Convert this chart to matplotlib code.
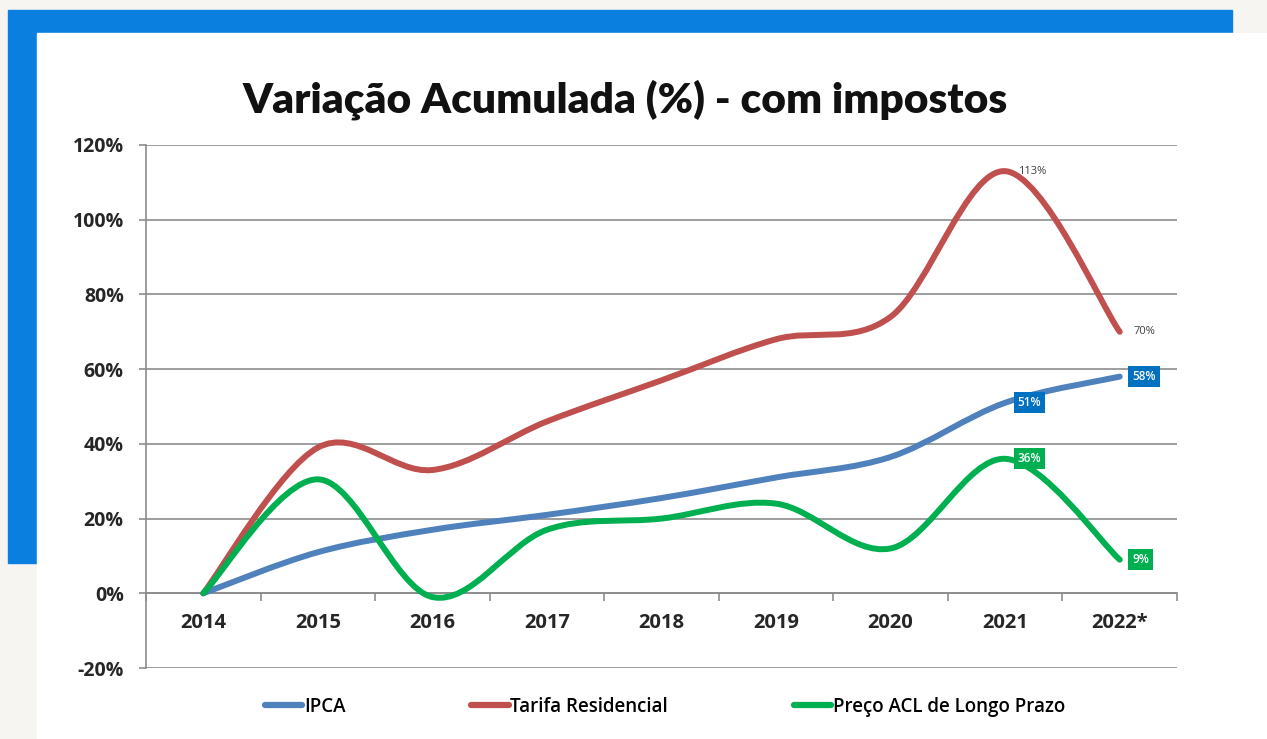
import matplotlib
matplotlib.use('Agg')
import matplotlib.pyplot as plt
from matplotlib.font_manager import FontProperties
import numpy as np
from matplotlib.path import Path
from matplotlib.patches import PathPatch, Rectangle
from matplotlib.lines import Line2D

# data (accumulated variation, %)
years = ['2014', '2015', '2016', '2017', '2018', '2019', '2020', '2021', '2022*']
ipca = [0, 11, 17, 21, 25.5, 31, 36.5, 51, 58]
tarifa = [0, 39, 33, 46, 57, 68, 74, 113, 70]
acl = [0, 30.5, -1, 17, 20, 24, 12, 36, 9]

series_names = ['IPCA', 'Tarifa Residencial', 'Preço ACL de Longo Prazo']
series_colors = ['#4f81bd', '#c0504d', '#00b050']

W, H = 1267, 739
fig = plt.figure(figsize=(W / 100, H / 100), dpi=100, facecolor='#f6f5f1')

# blue frame and white card behind the chart
fig.add_artist(Rectangle((8 / W, 1 - 563 / H), (1232 - 8) / W, (563 - 10) / H,
                         transform=fig.transFigure, color='#0a7fe0', zorder=-2))
fig.add_artist(Rectangle((37 / W, 0), 1 - 37 / W, (H - 33) / H,
                         transform=fig.transFigure, color='white', zorder=-1))

ax = fig.add_axes([146 / W, 1 - 668 / H, (1177 - 146) / W, (668 - 145) / H])
ax.set_facecolor('none')


def smooth_path(xs, ys):
    # excel-like smoothed line: bezier segments with catmull-rom control points
    pts = np.column_stack([xs, ys]).astype(float)
    n = len(pts)
    verts = [pts[0]]
    codes = [Path.MOVETO]
    for i in range(n - 1):
        p0 = pts[max(i - 1, 0)]
        p1 = pts[i]
        p2 = pts[i + 1]
        p3 = pts[min(i + 2, n - 1)]
        c1 = p1 + (p2 - p0) / 6
        c2 = p2 - (p3 - p1) / 6
        verts += [c1, c2, p2]
        codes += [Path.CURVE4] * 3
    return Path(verts, codes)


x = np.arange(len(years))
for vals, col in zip([ipca, tarifa, acl], series_colors):
    ax.add_patch(PathPatch(smooth_path(x, vals), fill=False, edgecolor=col,
                           lw=4.3, capstyle='round', joinstyle='round', zorder=3))

ax.set_xlim(-0.5, len(years) - 0.5)
ax.set_ylim(-20, 120)
ax.set_yticks(np.arange(-20, 121, 20))
ax.set_yticklabels([f'{v}%' for v in range(-20, 121, 20)])
ax.grid(axis='y', color='#8c8c8c', lw=1.2)
ax.set_axisbelow(True)

for s in ['top', 'right']:
    ax.spines[s].set_visible(False)
ax.spines['left'].set_color('#8c8c8c')
ax.spines['left'].set_linewidth(1.2)
ax.spines['bottom'].set_position(('data', 0))
ax.spines['bottom'].set_color('#8c8c8c')
ax.spines['bottom'].set_linewidth(1.2)

ax.set_xticks(x)
ax.set_xticklabels(years)
ax.set_xticks(np.arange(-0.5, len(years), 1), minor=True)
ax.tick_params(axis='x', which='major', length=0, pad=14)
ax.tick_params(axis='x', which='minor', length=6, color='#8c8c8c', width=1.2)
ax.tick_params(axis='y', length=5, color='#8c8c8c', width=1.2, pad=11)

for lab in ax.get_xticklabels():
    lab.set_fontproperties(FontProperties(family=['Open Sans', 'DejaVu Sans'], weight='bold', size=14.5))
    lab.set_color('#262626')
for lab in ax.get_yticklabels():
    lab.set_fontproperties(FontProperties(family=['Open Sans', 'DejaVu Sans'], weight='bold', size=14))
    lab.set_color('#262626')

# data labels
small = ['Open Sans', 'DejaVu Sans']
ax.annotate('113%', (7, tarifa[7]), xytext=(9, 0), textcoords='offset points',
            ha='left', va='center', fontsize=8, family=small, color='#404040')
ax.annotate('70%', (8, tarifa[8]), xytext=(10, 0), textcoords='offset points',
            ha='left', va='center', fontsize=8, family=small, color='#404040')
box_labels = [(8, ipca[8], '58%', '#0070c0'), (7, ipca[7], '51%', '#0070c0'),
              (7, acl[7], '36%', '#00b050'), (8, acl[8], '9%', '#00b050')]
for xi, yi, txt, col in box_labels:
    ax.annotate(txt, (xi, yi), xytext=(9, 0), textcoords='offset points',
                ha='left', va='center', fontsize=8.5, family=small, weight='semibold',
                color='white', zorder=5,
                bbox=dict(boxstyle='square,pad=0.35', fc=col, ec='none'))

fig.text(625 / W, 1 - 100 / H, 'Variação Acumulada (%) - com impostos',
         ha='center', va='center', fontsize=30.5, weight='heavy', family=['Lato', 'DejaVu Sans'],
         color='#111111')

handles = [Line2D([], [], color=c, lw=4.5, solid_capstyle='round') for c in series_colors]
fig.legend(handles, series_names, loc='center', bbox_to_anchor=(665 / W, 1 - 707 / H),
           ncol=3, frameon=False, handlelength=2.0, handletextpad=0.1, columnspacing=6.7,
           prop=FontProperties(family=small, weight='semibold', size=13.5))

fig.savefig('out.png', dpi=100, facecolor=fig.get_facecolor())
